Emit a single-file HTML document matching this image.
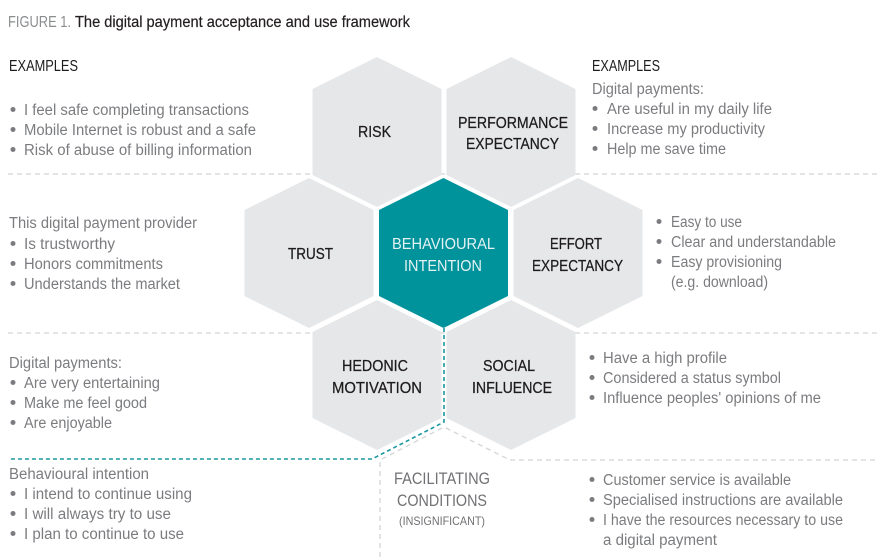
<!DOCTYPE html>
<html>
<head>
<meta charset="utf-8">
<style>
html,body{margin:0;padding:0;background:#fff;}
svg{display:block;}
text{font-family:"Liberation Sans", sans-serif;}
.g{fill:#7b7c7f;font-size:15.5px;}
.k{fill:#1d1b1c;font-size:16px;stroke:#1d1b1c;stroke-width:0.25;}
.h{fill:#1d1b1c;font-size:16px;}
</style>
</head>
<body>
<svg width="886" height="557" viewBox="0 0 886 557" xmlns="http://www.w3.org/2000/svg">
  <!-- dashed separators -->
  <g stroke="#d3d4d5" stroke-width="1.3" stroke-dasharray="5 4" fill="none">
    <line x1="8" y1="174" x2="878" y2="174"/>
    <line x1="8" y1="333" x2="878" y2="333"/>
    <line x1="510" y1="460" x2="878" y2="460"/>
    <polyline points="380,557 380,460 444,427 510,460"/>
  </g>
  <g stroke="#1a989f" stroke-width="1.6" stroke-dasharray="4 3" fill="none">
    <polyline points="444,328 444,422 372,459 8,459"/>
  </g>

  <!-- hexagons -->
  <g fill="#e6e7e8">
    <polygon points="377,57 441.5,89 441.5,175 377,207 312.5,175 312.5,89"/>
    <polygon points="511,57 575.5,89 575.5,175 511,207 446.5,175 446.5,89"/>
    <polygon points="309,178 373.5,210 373.5,296 309,328 244.5,296 244.5,210"/>
    <polygon points="578,178 642.5,210 642.5,296 578,328 513.5,296 513.5,210"/>
    <polygon points="377,300 441.5,332 441.5,418 377,450 312.5,418 312.5,332"/>
    <polygon points="511,300 575.5,332 575.5,418 511,450 446.5,418 446.5,332"/>
  </g>
  <polygon fill="#00939b" points="443.5,178 508,210 508,296 443.5,328 379,296 379,210"/>

  <!-- title -->
  <text x="8" y="27" font-size="15.5" fill="#8a8c8e" textLength="63" lengthAdjust="spacingAndGlyphs">FIGURE 1.</text>
  <text x="75" y="27" font-size="15.5" fill="#231f20" stroke="#231f20" stroke-width="0.2" textLength="335" lengthAdjust="spacingAndGlyphs">The digital payment acceptance and use framework</text>

  <!-- hex labels -->
  <text class="k" x="358" y="137" textLength="33" lengthAdjust="spacingAndGlyphs">RISK</text>
  <text class="k" x="458" y="128" textLength="110" lengthAdjust="spacingAndGlyphs">PERFORMANCE</text>
  <text class="k" x="466" y="149" textLength="93" lengthAdjust="spacingAndGlyphs">EXPECTANCY</text>
  <text class="k" x="288" y="259" textLength="45" lengthAdjust="spacingAndGlyphs">TRUST</text>
  <text class="k" x="392" y="249" textLength="103" lengthAdjust="spacingAndGlyphs" style="fill:#e4f2f3;stroke:none">BEHAVIOURAL</text>
  <text class="k" x="404" y="271" textLength="78" lengthAdjust="spacingAndGlyphs" style="fill:#e4f2f3;stroke:none">INTENTION</text>
  <text class="k" x="550" y="249" textLength="52" lengthAdjust="spacingAndGlyphs">EFFORT</text>
  <text class="k" x="532" y="271" textLength="91" lengthAdjust="spacingAndGlyphs">EXPECTANCY</text>
  <text class="k" x="342" y="371" textLength="66" lengthAdjust="spacingAndGlyphs">HEDONIC</text>
  <text class="k" x="332" y="393" textLength="90" lengthAdjust="spacingAndGlyphs">MOTIVATION</text>
  <text class="k" x="483" y="371" textLength="52" lengthAdjust="spacingAndGlyphs">SOCIAL</text>
  <text class="k" x="472" y="393" textLength="80" lengthAdjust="spacingAndGlyphs">INFLUENCE</text>
  <text x="394" y="484" font-size="17" fill="#707174" textLength="96" lengthAdjust="spacingAndGlyphs">FACILITATING</text>
  <text x="397" y="506" font-size="17" fill="#707174" textLength="90" lengthAdjust="spacingAndGlyphs">CONDITIONS</text>
  <text x="399" y="525" font-size="12" fill="#707174" textLength="86" lengthAdjust="spacingAndGlyphs">(INSIGNIFICANT)</text>

  <!-- left column -->
  <text class="h" x="9" y="71" textLength="69" lengthAdjust="spacingAndGlyphs">EXAMPLES</text>
  <g fill="#7b7c7f">
    <circle cx="13" cy="109.5" r="2.5"/><circle cx="13" cy="129.5" r="2.5"/><circle cx="13" cy="149.5" r="2.5"/>
    <circle cx="13" cy="243.5" r="2.5"/><circle cx="13" cy="263.5" r="2.5"/><circle cx="13" cy="283.5" r="2.5"/>
    <circle cx="13" cy="382.5" r="2.5"/><circle cx="13" cy="402.5" r="2.5"/><circle cx="13" cy="422.5" r="2.5"/>
    <circle cx="13" cy="493.5" r="2.5"/><circle cx="13" cy="513.5" r="2.5"/><circle cx="13" cy="533.5" r="2.5"/>
  </g>
  <text class="g" x="24" y="115" textLength="225" lengthAdjust="spacingAndGlyphs">I feel safe completing transactions</text>
  <text class="g" x="24" y="135" textLength="232" lengthAdjust="spacingAndGlyphs">Mobile Internet is robust and a safe</text>
  <text class="g" x="24" y="155" textLength="228" lengthAdjust="spacingAndGlyphs">Risk of abuse of billing information</text>

  <text class="g" x="9" y="228" textLength="188" lengthAdjust="spacingAndGlyphs">This digital payment provider</text>
  <text class="g" x="24" y="249" textLength="91" lengthAdjust="spacingAndGlyphs">Is trustworthy</text>
  <text class="g" x="24" y="269" textLength="139" lengthAdjust="spacingAndGlyphs">Honors commitments</text>
  <text class="g" x="24" y="289" textLength="156" lengthAdjust="spacingAndGlyphs">Understands the market</text>

  <text class="g" x="9" y="368" textLength="113" lengthAdjust="spacingAndGlyphs">Digital payments:</text>
  <text class="g" x="24" y="388" textLength="136" lengthAdjust="spacingAndGlyphs">Are very entertaining</text>
  <text class="g" x="24" y="408" textLength="123" lengthAdjust="spacingAndGlyphs">Make me feel good</text>
  <text class="g" x="24" y="428" textLength="88" lengthAdjust="spacingAndGlyphs">Are enjoyable</text>

  <text class="g" x="9" y="479" textLength="140" lengthAdjust="spacingAndGlyphs">Behavioural intention</text>
  <text class="g" x="24" y="499" textLength="168" lengthAdjust="spacingAndGlyphs">I intend to continue using</text>
  <text class="g" x="24" y="519" textLength="147" lengthAdjust="spacingAndGlyphs">I will always try to use</text>
  <text class="g" x="24" y="539" textLength="160" lengthAdjust="spacingAndGlyphs">I plan to continue to use</text>

  <!-- right column -->
  <text class="h" x="592" y="71" textLength="68" lengthAdjust="spacingAndGlyphs">EXAMPLES</text>
  <g fill="#7b7c7f">
    <circle cx="595" cy="108.5" r="2.5"/><circle cx="595" cy="128.5" r="2.5"/><circle cx="595" cy="148.5" r="2.5"/>
    <circle cx="659" cy="221.5" r="2.5"/><circle cx="659" cy="241.5" r="2.5"/><circle cx="659" cy="261.5" r="2.5"/>
    <circle cx="592" cy="357.5" r="2.5"/><circle cx="592" cy="377.5" r="2.5"/><circle cx="592" cy="397.5" r="2.5"/>
    <circle cx="592" cy="479.5" r="2.5"/><circle cx="592" cy="499.5" r="2.5"/><circle cx="592" cy="519.5" r="2.5"/>
  </g>
  <text class="g" x="592" y="94" textLength="112" lengthAdjust="spacingAndGlyphs">Digital payments:</text>
  <text class="g" x="607" y="114" textLength="165" lengthAdjust="spacingAndGlyphs">Are useful in my daily life</text>
  <text class="g" x="607" y="134" textLength="158" lengthAdjust="spacingAndGlyphs">Increase my productivity</text>
  <text class="g" x="607" y="154" textLength="119" lengthAdjust="spacingAndGlyphs">Help me save time</text>

  <text class="g" x="671" y="227" textLength="71" lengthAdjust="spacingAndGlyphs">Easy to use</text>
  <text class="g" x="671" y="247" textLength="165" lengthAdjust="spacingAndGlyphs">Clear and understandable</text>
  <text class="g" x="671" y="267" textLength="111" lengthAdjust="spacingAndGlyphs">Easy provisioning</text>
  <text class="g" x="671" y="287" textLength="97" lengthAdjust="spacingAndGlyphs">(e.g. download)</text>

  <text class="g" x="603" y="363" textLength="124" lengthAdjust="spacingAndGlyphs">Have a high profile</text>
  <text class="g" x="603" y="383" textLength="178" lengthAdjust="spacingAndGlyphs">Considered a status symbol</text>
  <text class="g" x="603" y="403" textLength="218" lengthAdjust="spacingAndGlyphs">Influence peoples' opinions of me</text>

  <text class="g" x="603" y="485" textLength="188" lengthAdjust="spacingAndGlyphs">Customer service is available</text>
  <text class="g" x="603" y="505" textLength="240" lengthAdjust="spacingAndGlyphs">Specialised instructions are available</text>
  <text class="g" x="603" y="525" textLength="240" lengthAdjust="spacingAndGlyphs">I have the resources necessary to use</text>
  <text class="g" x="603" y="545" textLength="114" lengthAdjust="spacingAndGlyphs">a digital payment</text>
</svg>
</body>
</html>
